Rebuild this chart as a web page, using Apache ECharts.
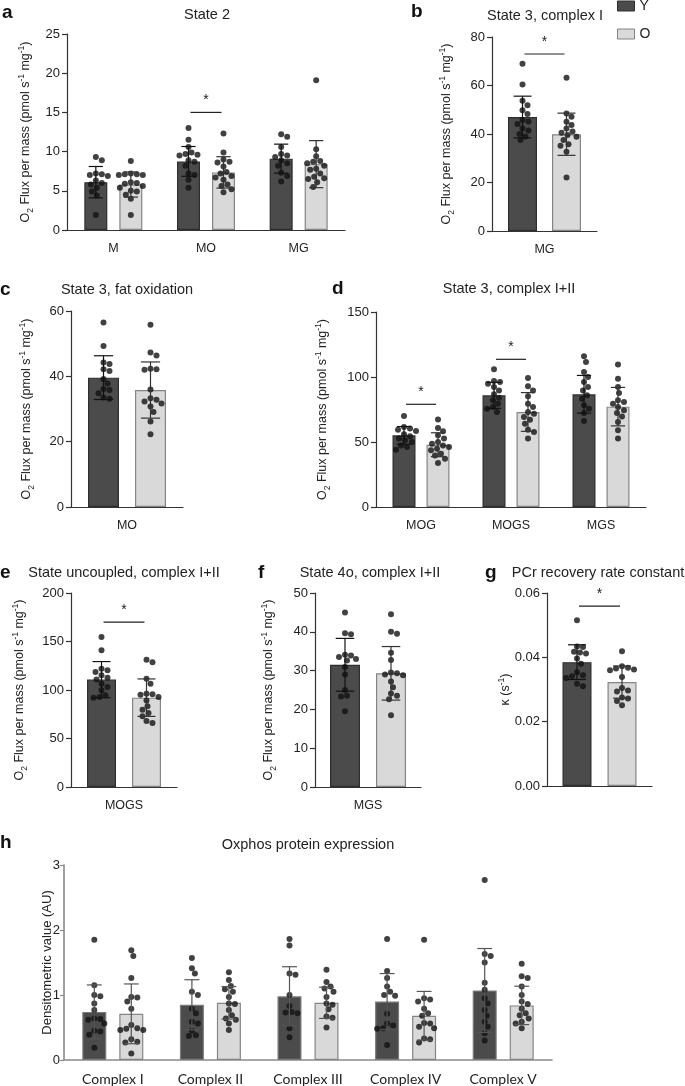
<!DOCTYPE html>
<html><head><meta charset="utf-8">
<script src="https://cdn.jsdelivr.net/npm/echarts@6/dist/echarts.min.js"></script>
<style>html,body{margin:0;padding:0;background:#fff}#c{width:685px;height:1086px}</style>
</head><body><div id="c"></div>
<script>
// ---------------- DATA ----------------
const aCategories = ['M', 'MO', 'MG'];
const aYMean = [6.1, 8.75, 9.1];
const aYSD = [2.0, 1.9, 1.85];
const aOMean = [5.8, 7.35, 8.4];
const aOSD = [1.6, 2.0, 3.0];
const aYPoints = [
  [9.3, 8.9, 7.2, 7.1, 7.0, 6.9, 6.3, 6.0, 5.8, 5.4, 4.9, 4.4, 1.9],
  [13.0, 11.5, 10.6, 9.9, 9.7, 9.6, 9.5, 8.9, 8.7, 8.2, 7.2, 7.0, 6.4, 5.4],
  [12.2, 11.9, 10.6, 9.7, 9.5, 9.3, 8.9, 8.5, 8.2, 7.3, 6.9, 6.2]
];
const aOPoints = [
  [8.8, 7.2, 7.1, 7.1, 7.0, 7.0, 6.1, 6.0, 5.9, 5.6, 5.4, 5.0, 4.9, 4.5, 4.0, 1.9],
  [12.3, 9.9, 9.0, 8.7, 8.6, 8.1, 7.4, 7.2, 6.9, 6.7, 6.4, 5.8, 5.6, 5.2, 4.8],
  [19.1, 10.3, 9.4, 8.8, 8.7, 8.5, 8.2, 7.8, 7.7, 7.2, 6.8, 6.6, 6.5, 6.1, 5.5]
];
const aSig = [[1, 15]];

const bCategories = ['MG'];
const bYMean = [47.0];
const bYSD = [8.6];
const bOMean = [39.9];
const bOSD = [8.7];
const bYPoints = [[69.0, 60.4, 53.7, 51.9, 49.8, 48.2, 45.8, 45.2, 44.1, 42.3, 41.4, 40.0, 39.0, 37.5]];
const bOPoints = [[63.2, 48.5, 47.1, 45.1, 43.7, 42.3, 41.0, 40.5, 39.6, 38.9, 37.5, 35.8, 35.2, 32.7, 22.1]];
const bSig = [[0, 73]];

const cCategories = ['MO'];
const cYMean = [39.6];
const cYSD = [6.7];
const cOMean = [35.8];
const cOSD = [8.6];
const cYPoints = [[56.5, 49.3, 44.2, 43.8, 42.2, 41.6, 39.2, 37.8, 36.1, 35.8, 34.8, 33.5, 33.1]];
const cOPoints = [[55.8, 47.3, 46.4, 42.3, 42.2, 42.0, 36.0, 33.3, 32.8, 32.3, 31.7, 30.8, 29.1, 26.2, 22.3]];
const cSig = [];

const dCategories = ['MOG', 'MOGS', 'MGS'];
const dYMean = [55.1, 85.9, 86.7];
const dYSD = [6.8, 10.0, 14.5];
const dOMean = [47.9, 73.1, 77.2];
const dOSD = [9.2, 14.9, 14.8];
const dYPoints = [
  [70.0, 61.5, 60.3, 59.5, 58.5, 55.9, 54.4, 52.6, 51.3, 50.0, 47.4, 46.2, 44.1],
  [105.9, 97.0, 96.2, 94.9, 92.3, 89.7, 86.7, 84.1, 82.1, 79.5, 76.9, 75.6, 73.1],
  [115.9, 111.5, 103.8, 100.0, 96.2, 92.3, 89.7, 85.9, 83.3, 78.2, 75.6, 72.3, 66.2]
];
const dOPoints = [
  [67.4, 60.8, 58.2, 55.1, 52.6, 50.0, 48.7, 47.4, 46.2, 44.9, 43.6, 41.0, 39.7, 37.2, 33.8],
  [99.2, 92.8, 89.7, 85.1, 79.5, 76.9, 73.1, 71.8, 69.2, 67.2, 64.1, 59.5, 57.7, 52.6],
  [109.7, 98.7, 92.3, 87.7, 82.1, 80.8, 79.5, 76.9, 74.4, 72.3, 69.7, 65.4, 59.0, 52.6]
];
const dSig = [[0, 79], [1, 113.6]];

const eCategories = ['MOGS'];
const eYMean = [110.7];
const eYSD = [18.6];
const eOMean = [92.1];
const eOSD = [19.3];
const eYPoints = [[154.6, 140.9, 122.0, 120.3, 118.6, 115.1, 112.7, 110.7, 106.5, 103.1, 99.7, 94.5, 92.8, 92.1]];
const eOPoints = [[131.3, 128.5, 111.7, 106.5, 96.2, 95.5, 95.2, 92.8, 89.3, 83.2, 79.7, 76.3, 72.9, 68.0, 66.0]];
const eSig = [[0, 170]];

const fCategories = ['MGS'];
const fYMean = [31.5];
const fYSD = [6.8];
const fOMean = [29.3];
const fOSD = [6.9];
const fYPoints = [[45.0, 39.6, 39.4, 34.1, 33.9, 33.5, 33.0, 32.6, 30.9, 29.0, 25.0, 23.5, 23.3, 19.5]];
const fOPoints = [[44.5, 40.0, 39.5, 34.6, 32.7, 29.5, 29.3, 29.0, 28.8, 27.2, 25.7, 24.1, 23.5, 22.6, 18.5]];
const fSig = [];

const gCategories = [''];
const gYMean = [0.0385];
const gYSD = [0.0054];
const gOMean = [0.0323];
const gOSD = [0.0050];
const gYPoints = [[0.0515, 0.0434, 0.0432, 0.0417, 0.0415, 0.0412, 0.0396, 0.0380, 0.0354, 0.0344, 0.0341, 0.0336, 0.0318, 0.0310]];
const gOPoints = [[0.0419, 0.0372, 0.0368, 0.0365, 0.0362, 0.0360, 0.0339, 0.0305, 0.0297, 0.0294, 0.0275, 0.0272, 0.0264, 0.0251]];
const gSig = [[0, 0.0559]];

const hCategories = ['Complex I', 'Complex II', 'Complex III', 'Complex IV', 'Complex V'];
const hYMean = [0.74, 0.85, 0.98, 0.90, 1.07];
const hYSD = [0.415, 0.385, 0.455, 0.43, 0.645];
const hOMean = [0.71, 0.88, 0.88, 0.68, 0.84];
const hOSD = [0.46, 0.25, 0.24, 0.375, 0.295];
const hYPoints = [
  [1.85, 1.15, 1.0, 0.98, 0.87, 0.77, 0.64, 0.63, 0.62, 0.56, 0.45, 0.44, 0.39, 0.19],
  [1.57, 1.41, 1.33, 1.05, 1.0, 0.79, 0.72, 0.59, 0.56, 0.45, 0.38, 0.37],
  [1.86, 1.76, 1.33, 1.31, 1.0, 0.83, 0.74, 0.73, 0.72, 0.49, 0.35],
  [1.86, 1.37, 1.26, 1.13, 1.05, 1.0, 0.99, 0.71, 0.56, 0.53, 0.49, 0.48, 0.23],
  [2.77, 1.63, 1.6, 1.5, 1.19, 1.08, 0.95, 0.87, 0.77, 0.68, 0.59, 0.51, 0.41, 0.3]
];
const hOPoints = [
  [1.69, 1.6, 1.26, 0.97, 0.96, 0.9, 0.79, 0.54, 0.49, 0.48, 0.46, 0.46, 0.32, 0.28, 0.27, 0.1],
  [1.35, 1.23, 1.14, 1.09, 1.05, 0.97, 0.87, 0.86, 0.77, 0.69, 0.64, 0.62, 0.56, 0.46],
  [1.39, 1.2, 1.13, 1.1, 1.05, 0.97, 0.87, 0.85, 0.78, 0.67, 0.65, 0.5],
  [1.85, 0.95, 0.93, 0.9, 0.79, 0.72, 0.68, 0.57, 0.56, 0.51, 0.49, 0.33, 0.32, 0.27],
  [1.48, 1.29, 1.26, 1.13, 1.0, 0.9, 0.86, 0.79, 0.72, 0.69, 0.64, 0.59, 0.56, 0.49]
];
const hSig = [];

const seriesNames = ['Y', 'O'];
const panelTitles = ['State 2', 'State 3, complex I', 'State 3, fat oxidation', 'State 3, complex I+II',
  'State uncoupled, complex I+II', 'State 4o, complex I+II', 'PCr recovery rate constant', 'Oxphos protein expression'];
const panelLetters = ['a', 'b', 'c', 'd', 'e', 'f', 'g', 'h'];
const fluxName = '{n|O}{s|2}{n| Flux per mass (pmol s}{p|-1}{n| mg}{p|-1}{n|)}';
const kappaName = '{n|κ (s}{p|-1}{n|)}';
const densName = 'Densitometric value (AU)';

// ---------------- STYLE / LAYOUT ----------------
const SANS = "'Liberation Sans', Arial, Helvetica, sans-serif";
const NARROW = "'Liberation Sans Narrow', 'Arial Narrow', 'Liberation Sans', sans-serif";
const LATO = "Lato, 'Liberation Sans', sans-serif";
const TXT = '#222';
const YC = '#4b4b4b', YB = '#2e2e2e', OC = '#d9d9d9', OB = '#858585';

const panels = [
  {cats: aCategories, ym: aYMean, ys: aYSD, om: aOMean, os: aOSD, yp: aYPoints, op: aOPoints, sig: aSig,
   max: 25, step: 5, grid: {left: 67, top: 34, width: 278, height: 196}, bw: 23, gap: 12, name: fluxName, nameGap: 32,
   title: [207, 15], letter: [2, 13]},
  {cats: bCategories, ym: bYMean, ys: bYSD, om: bOMean, os: bOSD, yp: bYPoints, op: bOPoints, sig: bSig,
   max: 80, step: 20, grid: {left: 492, top: 37, width: 105, height: 194}, bw: 29, gap: 15, name: fluxName, nameGap: 36,
   title: [545, 16], letter: [411, 12]},
  {cats: cCategories, ym: cYMean, ys: cYSD, om: cOMean, os: cOSD, yp: cYPoints, op: cOPoints, sig: cSig,
   max: 60, step: 20, grid: {left: 71, top: 311, width: 112, height: 196}, bw: 31, gap: 16, name: fluxName, nameGap: 35,
   title: [127, 290], letter: [0, 290]},
  {cats: dCategories, ym: dYMean, ys: dYSD, om: dOMean, os: dOSD, yp: dYPoints, op: dOPoints, sig: dSig,
   max: 150, step: 50, grid: {left: 376, top: 312, width: 270, height: 195}, bw: 23, gap: 11, name: fluxName, nameGap: 44,
   title: [509, 289], letter: [332, 289]},
  {cats: eCategories, ym: eYMean, ys: eYSD, om: eOMean, os: eOSD, yp: eYPoints, op: eOPoints, sig: eSig,
   max: 200, step: 50, grid: {left: 71, top: 593, width: 106, height: 194}, bw: 29, gap: 16, name: fluxName, nameGap: 42,
   title: [124, 573], letter: [0, 573]},
  {cats: fCategories, ym: fYMean, ys: fYSD, om: fOMean, os: fOSD, yp: fYPoints, op: fOPoints, sig: fSig,
   max: 50, step: 10, grid: {left: 315, top: 593, width: 106, height: 194}, bw: 30, gap: 16, name: fluxName, nameGap: 37,
   title: [370, 573], letter: [258, 573]},
  {cats: gCategories, ym: gYMean, ys: gYSD, om: gOMean, os: gOSD, yp: gYPoints, op: gOPoints, sig: gSig,
   max: 0.06, step: 0.02, grid: {left: 547, top: 593, width: 105, height: 193}, bw: 29, gap: 16, name: kappaName, nameGap: 32,
   title: [598, 573], letter: [485, 573], dec: 2},
  {cats: hCategories, ym: hYMean, ys: hYSD, om: hOMean, os: hOSD, yp: hYPoints, op: hOPoints, sig: hSig,
   max: 3, step: 1, grid: {left: 64, top: 865, width: 488, height: 195}, bw: 24, gap: 13, name: densName, nameGap: 10,
   title: [308, 845], letter: [0, 843], grey: true}
];

// beeswarm horizontal layout (pixels) so dots don't overlap
function swarm(vals, ppu, d) {
  const order = vals.map((v, i) => i).sort((a, b) => vals[b] - vals[a]);
  const placed = [], offs = new Array(vals.length).fill(0);
  order.forEach(i => {
    const y = vals[i] * ppu;
    let x = 0;
    for (let k = 0; k < 80; k++) {
      const cand = (k % 2 ? 1 : -1) * Math.ceil(k / 2);
      if (placed.every(p => Math.hypot(p.x - cand, p.y - y) >= d)) { x = cand; break; }
    }
    placed.push({x, y});
    offs[i] = x;
  });
  return offs;
}

const grids = [], xAxes = [], yAxes = [], series = [], graphics = [];
const richName = {
  n: {fontSize: 12.5, fontFamily: SANS, color: TXT, lineHeight: 18, verticalAlign: 'middle'},
  s: {fontSize: 8.5, fontFamily: SANS, color: TXT, lineHeight: 8, verticalAlign: 'bottom'},
  p: {fontSize: 8.5, fontFamily: SANS, color: TXT, lineHeight: 8, verticalAlign: 'top'}
};

panels.forEach((P, i) => {
  const axisCol = P.grey ? '#8a8a8a' : '#333';
  const errColY = P.grey ? '#555' : '#111';
  const errColO = P.grey ? '#555' : '#333';
  const yBorder = P.grey ? '#7a7a7a' : YB;
  grids.push(Object.assign({containLabel: false}, P.grid));
  xAxes.push({
    gridIndex: i, type: 'category', data: P.cats,
    axisLine: {lineStyle: {color: axisCol, width: P.grey ? 1.6 : 1.2}},
    axisTick: {show: false},
    axisLabel: {margin: 12, fontSize: P.grey ? 14 : 12.5, fontFamily: P.grey ? LATO : SANS, color: TXT, interval: 0},
    splitLine: {show: false}
  });
  yAxes.push({
    gridIndex: i, type: 'value', min: 0, max: P.max, interval: P.step,
    name: P.name, nameLocation: 'middle', nameGap: P.nameGap, nameRotate: 90, nameMoveOverlap: false,
    nameTextStyle: {fontFamily: SANS, fontSize: P.grey ? 13 : 12.5, color: TXT, rich: P.grey ? undefined : richName},
    axisLine: {show: true, lineStyle: {color: axisCol, width: P.grey ? 1.6 : 1.2}},
    axisTick: {show: true, length: P.grey ? 4 : 5, lineStyle: {color: axisCol, width: 1.2}},
    axisLabel: {margin: P.grey ? 4 : 7, fontSize: 13, fontFamily: NARROW, color: TXT,
      formatter: v => P.dec ? v.toFixed(P.dec) : String(Math.round(v))},
    splitLine: {show: false}
  });
  const off = (P.bw + P.gap) / 2;
  const ppu = P.grid.height / P.max;
  const barGap = (P.gap / P.bw * 100).toFixed(1) + '%';
  series.push({type: 'bar', name: seriesNames[0], xAxisIndex: i, yAxisIndex: i, data: P.ym,
    barWidth: P.bw, barGap, silent: true, z: 2,
    itemStyle: {color: YC, borderColor: yBorder, borderWidth: 1.2}});
  series.push({type: 'bar', name: seriesNames[1], xAxisIndex: i, yAxisIndex: i, data: P.om,
    barWidth: P.bw, barGap, silent: true, z: 2,
    itemStyle: {color: OC, borderColor: OB, borderWidth: 1.2}});
  [[P.yp, -off], [P.op, off]].forEach(([pts, base]) => {
    const data = [];
    pts.forEach((vals, c) => {
      const offs = swarm(vals, ppu, 6);
      vals.forEach((v, k) => data.push({value: [c, v], symbolOffset: [base + offs[k], 0]}));
    });
    series.push({type: 'scatter', xAxisIndex: i, yAxisIndex: i, symbolSize: 6, silent: true, z: 3,
      itemStyle: {color: '#111'}, data});
  });
  const capW = P.bw * 0.62;
  [[P.ym, P.ys, -off, errColY], [P.om, P.os, off, errColO]].forEach(([means, sds, o, col]) => {
    series.push({
      type: 'custom', xAxisIndex: i, yAxisIndex: i, silent: true, z: 4,
      data: means.map((m, c) => [c, m, sds[c]]),
      renderItem: (params, api) => {
        const c = api.value(0), m = api.value(1), s = api.value(2);
        const t = api.coord([c, m + s]), b = api.coord([c, m - s]);
        const x = t[0] + o, h = capW / 2;
        const st = {stroke: col, lineWidth: 1.2, fill: null};
        return {type: 'group', children: [
          {type: 'line', shape: {x1: x, y1: t[1], x2: x, y2: b[1]}, style: st},
          {type: 'line', shape: {x1: x - h, y1: t[1], x2: x + h, y2: t[1]}, style: st},
          {type: 'line', shape: {x1: x - h, y1: b[1], x2: x + h, y2: b[1]}, style: st}
        ]};
      }
    });
  });
  if (P.sig.length) {
    series.push({
      type: 'custom', xAxisIndex: i, yAxisIndex: i, silent: true, z: 5,
      data: P.sig,
      renderItem: (params, api) => {
        const p = api.coord([api.value(0), api.value(1)]);
        return {type: 'group', children: [
          {type: 'line', shape: {x1: p[0] - off + 2, y1: p[1], x2: p[0] + off - 2, y2: p[1]},
            style: {stroke: '#222', lineWidth: 1.2}},
          {type: 'text', x: p[0], y: p[1] - 12,
            style: {text: '*', fill: '#222', font: '14px ' + SANS, align: 'center', verticalAlign: 'middle'}}
        ]};
      }
    });
  }
  graphics.push({type: 'text', x: P.title[0], y: P.title[1],
    style: {text: panelTitles[i], fill: TXT, font: '14.5px ' + SANS, align: 'center', verticalAlign: 'middle'}});
  graphics.push({type: 'text', x: P.letter[0], y: P.letter[1],
    style: {text: panelLetters[i], fill: '#111', font: 'bold 19px ' + SANS, align: 'left', verticalAlign: 'middle'}});
});

const chart = echarts.init(document.getElementById('c'), null, {renderer: 'canvas'});
chart.setOption({
  animation: false,
  backgroundColor: '#fff',
  grid: grids, xAxis: xAxes, yAxis: yAxes, series,
  graphic: graphics,
  legend: {
    orient: 'vertical', left: 617, top: -1, itemWidth: 17, itemHeight: 10, itemGap: 14, padding: 0,
    selectedMode: false,
    textStyle: {fontSize: 14, fontFamily: SANS, color: TXT},
    data: [
      {name: 'Y', icon: 'rect', itemStyle: {color: YC, borderColor: YB, borderWidth: 1}},
      {name: 'O', icon: 'rect', itemStyle: {color: OC, borderColor: OB, borderWidth: 1}}
    ]
  }
});
</script>
</body></html>
